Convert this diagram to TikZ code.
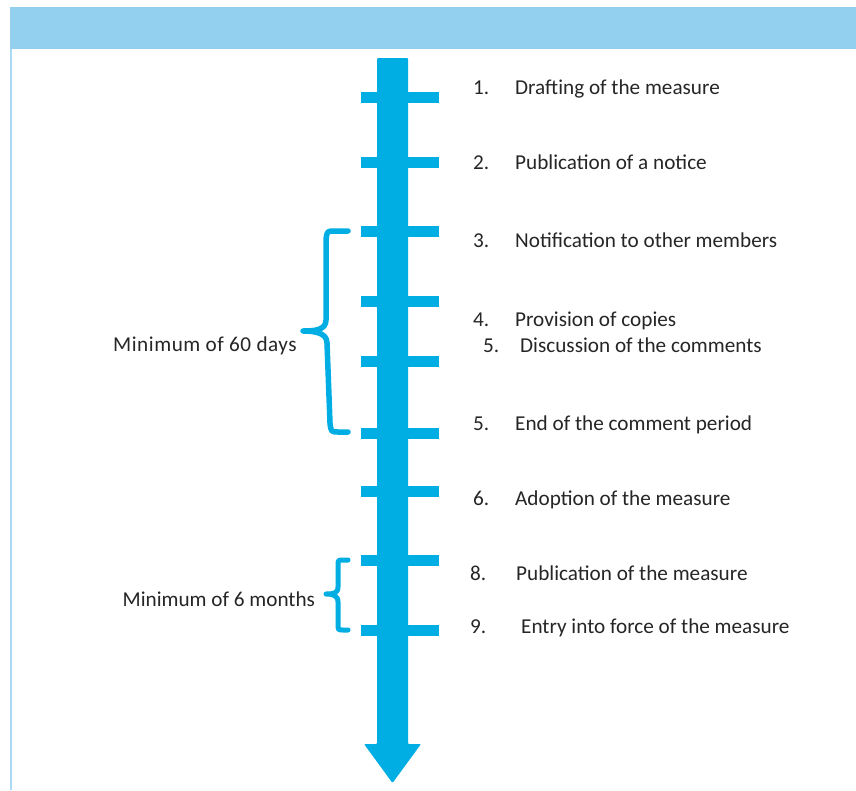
\documentclass[tikz,border=0pt]{standalone}
\usepackage{fontspec}
\setmainfont{Carlito}
\definecolor{shaft}{HTML}{00AEE3}
\definecolor{hdr}{HTML}{93CFEE}
\definecolor{edge}{HTML}{A9DAF2}
\definecolor{txt}{HTML}{262626}
\begin{document}
\begin{tikzpicture}[x=1pt,y=-1pt,
  lbl/.style={anchor=base west, inner sep=0pt, text=txt, font=\fontsize{21.2}{25}\selectfont},
  tickbar/.style={fill=shaft},
  bracestyle/.style={draw=shaft, line width=5.5pt, line cap=round, line join=round}]
\useasboundingbox (0,0) rectangle (856,790);
\fill[white] (0,0) rectangle (856,790);
% header band and left border
\fill[hdr] (10,7) rectangle (856,49);
\fill[edge] (10,49) rectangle (12,790);
% ticks
\foreach \y in {97,162,231,301,361,433,491,560,630}
  \fill[tickbar] (361,\y-5.5) rectangle (439,\y+5.5);
% arrow
\fill[shaft, rounded corners=1pt] (377,58) -- (408,58) -- (408,744) -- (421,744)
  -- (392.5,783) -- (364,744) -- (377,744) -- cycle;
% braces
\draw[bracestyle] (348,231) -- (335,231) .. controls (327,231) .. (326,240)
  -- (326,320) .. controls (326,330) and (315,331) .. (303,331)
  .. controls (315,331) and (327,333) .. (327,343)
  -- (330,423) .. controls (331,432) .. (339,432) -- (348,432);
\draw[bracestyle, line width=5pt] (348,560) -- (343,560) .. controls (338,560) .. (338,566)
  -- (338,587) .. controls (338,594) and (332,594) .. (326,594)
  .. controls (332,594) and (338,595) .. (338,602)
  -- (338,624) .. controls (338,630) .. (343,630) -- (348,630);
% labels
\node[lbl] (n1) at (473,94) {1.};
\node[lbl] (t1) at (515,94) {Drafting of the measure};
\node[lbl] (n2) at (473,169) {2.};
\node[lbl] (t2) at (515,169) {Publication of a notice};
\node[lbl] (n3) at (473,247) {3.};
\node[lbl] (t3) at (515,247) {Notification to other members};
\node[lbl] (n4) at (473,326) {4.};
\node[lbl] (t4) at (515,326) {Provision of copies};
\node[lbl] (n5) at (483,352) {5.};
\node[lbl] (t5) at (520,352) {Discussion of the comments};
\node[lbl] (n5b) at (473,430) {5.};
\node[lbl] (t5b) at (515,430) {End of the comment period};
\node[lbl] (n6) at (473,505) {6.};
\node[lbl] (t6) at (515,505) {Adoption of the measure};
\node[lbl] (n8) at (470,580) {8.};
\node[lbl] (t8) at (516,580) {Publication of the measure};
\node[lbl] (n9) at (470,633) {9.};
\node[lbl] (t9) at (521,633) {Entry into force of the measure};
\node[lbl] (m60) at (113,351) {\addfontfeature{LetterSpace=2.5}Minimum of 60 days};
\node[lbl] (m6) at (122.5,606) {Minimum of 6 months};
\end{tikzpicture}
\end{document}
